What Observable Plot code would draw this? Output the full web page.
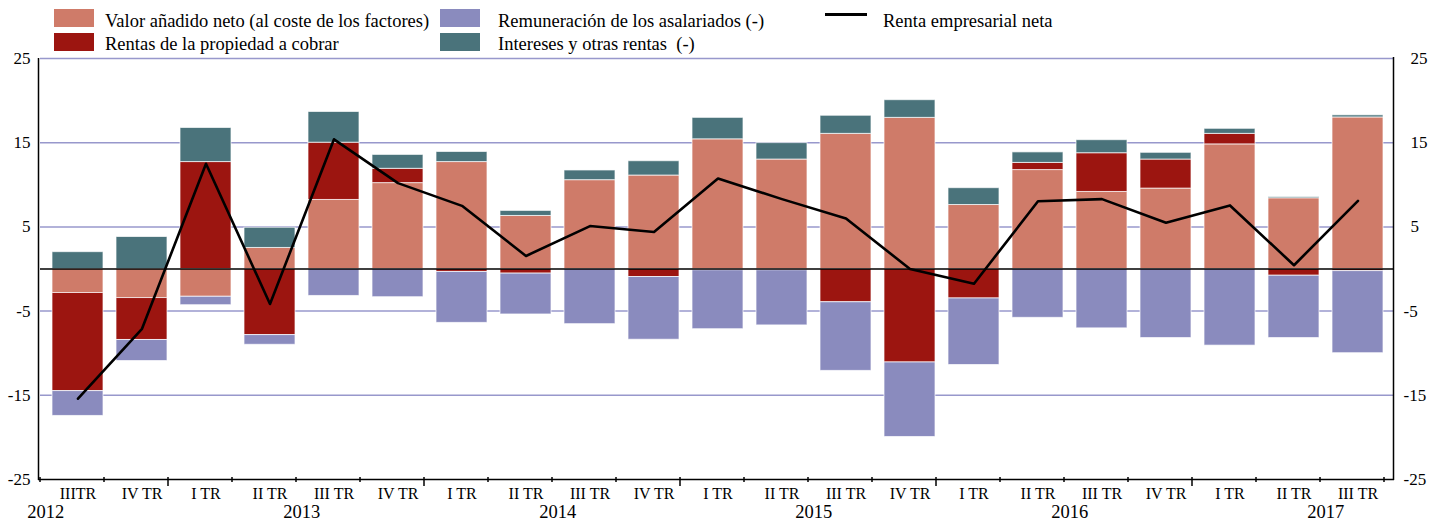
<!DOCTYPE html>
<html>
<head>
<meta charset="utf-8">
<script src="https://cdn.jsdelivr.net/npm/d3@7"></script>
<script src="https://cdn.jsdelivr.net/npm/@observablehq/plot@0.6"></script>
<style>
  body { margin: 0; background: white; font-family: "Liberation Serif", "Times New Roman", serif; }
  #wrap { position: relative; width: 1445px; }
  #legend { position: relative; height: 50px; z-index: 2; font-size: 18.5px; color: #000; }
  #legend .sw { position: absolute; width: 40px; height: 18px; }
  #legend .tx { position: absolute; line-height: 18.5px; white-space: pre; }
  #legend .ln { position: absolute; width: 42px; height: 3px; background: #000; }
</style>
</head>
<body>
<div id="wrap">
  <div id="legend"></div>
  <div id="chart"></div>
</div>
<script>
// ---- Data ----
const periodos = ["2012T3","2012T4","2013T1","2013T2","2013T3","2013T4","2014T1","2014T2","2014T3","2014T4",
  "2015T1","2015T2","2015T3","2015T4","2016T1","2016T2","2016T3","2016T4","2017T1","2017T2","2017T3"];
const etiquetasTrimestre = ["IIITR","IV TR","I TR","II TR","III TR","IV TR","I TR","II TR","III TR","IV TR",
  "I TR","II TR","III TR","IV TR","I TR","II TR","III TR","IV TR","I TR","II TR","III TR"];
const anios = ["2012","2013","2014","2015","2016","2017"];
const aniosAncla = ["2012T3","2013T3","2014T3","2015T3","2016T3","2017T3"];
const inicioAnio = ["2013T1","2014T1","2015T1","2016T1","2017T1"];

const series = ["Valor añadido neto (al coste de los factores)", "Rentas de la propiedad a cobrar",
  "Remuneración de los asalariados (-)", "Intereses y otras rentas  (-)"];
const colores = ["#CF7B69", "#9C1510", "#8A8BBE", "#4A737B"];

const valorAnadido = [-2.85,-3.45,-3.3,2.5,8.2,10.2,12.7,6.3,10.55,11.1,15.4,13.0,16.05,17.95,7.6,11.75,9.15,9.55,14.8,8.4,18.0];
const rentasPropiedad = [-11.65,-4.98,12.7,-7.85,6.8,1.7,-0.35,-0.55,0,-0.95,-0.15,-0.15,-3.95,-11.1,-3.5,0.85,4.6,3.45,1.25,-0.8,-0.25];
const remuneracion = [-2.95,-2.5,-1.0,-1.15,-3.2,-3.35,-6.05,-4.85,-6.55,-7.45,-7.0,-6.55,-8.15,-8.85,-7.9,-5.8,-7.05,-8.2,-9.1,-7.4,-9.75];
const intereses = [2.0,3.8,4.05,2.4,3.65,1.65,1.2,0.6,1.15,1.7,2.55,1.95,2.15,2.1,2.0,1.25,1.55,0.8,0.6,0.15,0.25];
const rentaEmpresarial = [-15.4,-7.1,12.5,-4.15,15.4,10.2,7.5,1.55,5.1,4.4,10.75,8.3,6.0,0.0,-1.75,8.05,8.3,5.5,7.55,0.45,8.1];

const yTicks = [-25,-15,-5,5,15,25];
const gridY = [-15,-5,5,15,25];

// ---- Build tables ----
const valores = [valorAnadido, rentasPropiedad, remuneracion, intereses];
const barras = [];
series.forEach((s, i) => periodos.forEach((p, j) => barras.push({periodo: p, serie: s, valor: valores[i][j]})));
const linea = periodos.map((p, j) => ({periodo: p, valor: rentaEmpresarial[j]}));
const etiqueta = new Map(periodos.map((p, j) => [p, etiquetasTrimestre[j]]));
const aniosData = anios.map((a, i) => ({anio: a, periodo: aniosAncla[i]}));

// ---- Layout ----
const W = 1445, H = 476, mL = 40, mR = 51, mT = 8, mB = 47;
const step = (W - mL - mR) / periodos.length;

const plot = Plot.plot({
  width: W, height: H,
  marginLeft: mL, marginRight: mR, marginTop: mT, marginBottom: mB,
  style: {fontFamily: "Liberation Serif, Times New Roman, serif", fontSize: "16px", background: "white", color: "black", overflow: "visible"},
  x: {domain: periodos, paddingInner: 0.21, paddingOuter: 0.105, axis: null, label: null},
  y: {domain: [-25, 25], axis: null, label: null},
  color: {domain: series, range: colores},
  marks: [
    Plot.ruleY(gridY, {stroke: "#9898cc", strokeWidth: 1.5}),
    Plot.barY(barras, Plot.stackY({x: "periodo", y: "valor", fill: "serie", stroke: "white", strokeOpacity: 0.7, strokeWidth: 1})),
    Plot.ruleY([0], {stroke: "black", strokeWidth: 1.5}),
    Plot.line(linea, {x: "periodo", y: "valor", stroke: "black", strokeWidth: 2.6}),
    Plot.axisX({anchor: "bottom", label: null, tickSize: 0, tickPadding: 8, fontSize: 16, tickFormat: d => etiqueta.get(d)}),
    Plot.text(aniosData, {x: "periodo", text: "anio", frameAnchor: "bottom", dy: 38, dx: -step / 2, fontSize: 18.5, textAnchor: "middle"}),
    Plot.axisY({anchor: "left", label: null, ticks: yTicks, tickSize: 0, tickPadding: 10, fontSize: 17, tickFormat: d => d}),
    Plot.axisY({anchor: "right", label: null, ticks: yTicks.filter(d => d > 0), tickSize: 0, tickPadding: 16, fontSize: 17, tickFormat: d => d}),
    Plot.axisY({anchor: "right", label: null, ticks: yTicks.filter(d => d < 0), tickSize: 0, tickPadding: 9, fontSize: 17, tickFormat: d => d})
  ]
});
document.getElementById("chart").appendChild(plot);

// ---- Frame lines and x ticks from the scales ----
const sx = plot.scale("x"), sy = plot.scale("y");
const x0 = sx.range[0], x1 = sx.range[1];
const yb = sy.apply(-25), yt = sy.apply(25);
const g = d3.select(plot).append("g").attr("stroke", "black").attr("fill", "none");
g.append("line").attr("x1", x0 - 1.5).attr("x2", x0 - 1.5).attr("y1", yt).attr("y2", yb + 1).attr("stroke-width", 1.5);
g.append("line").attr("x1", x1 - 0.5).attr("x2", x1 - 0.5).attr("y1", yt - 1).attr("y2", yb + 1).attr("stroke-width", 1.5);
g.append("line").attr("x1", x0 - 2).attr("x2", x1).attr("y1", yb + 0.5).attr("y2", yb + 0.5).attr("stroke-width", 1.5);
const st = sx.step || step;
for (let k = 0; k <= periodos.length; k++) {
  const bx = x0 + k * st;
  const largo = k < periodos.length && inicioAnio.includes(periodos[k]);
  g.append("line").attr("x1", bx).attr("x2", bx).attr("y1", yb - 2).attr("y2", yb + (largo ? 7 : 3)).attr("stroke-width", 1.5);
}

// ---- Legend (HTML) ----
const leg = document.getElementById("legend");
function add(cls, css, text) {
  const e = document.createElement("div");
  e.className = cls;
  Object.assign(e.style, css);
  if (text) e.textContent = text;
  leg.appendChild(e);
}
const pos = [
  {sx: 54, sy: 9, tx: 105, ty: 11.5},
  {sx: 54, sy: 33, tx: 105, ty: 34.5},
  {sx: 440, sy: 9, tx: 498, ty: 11.5},
  {sx: 440, sy: 33, tx: 498, ty: 34.5}
];
series.forEach((s, i) => {
  const p = pos[i];
  add("sw", {left: p.sx + "px", top: p.sy + "px", background: colores[i]});
  add("tx", {left: p.tx + "px", top: p.ty + "px"}, s);
});
add("ln", {left: "825px", top: "13px"});
add("tx", {left: "883px", top: "11.5px"}, "Renta empresarial neta");
</script>
</body>
</html>
